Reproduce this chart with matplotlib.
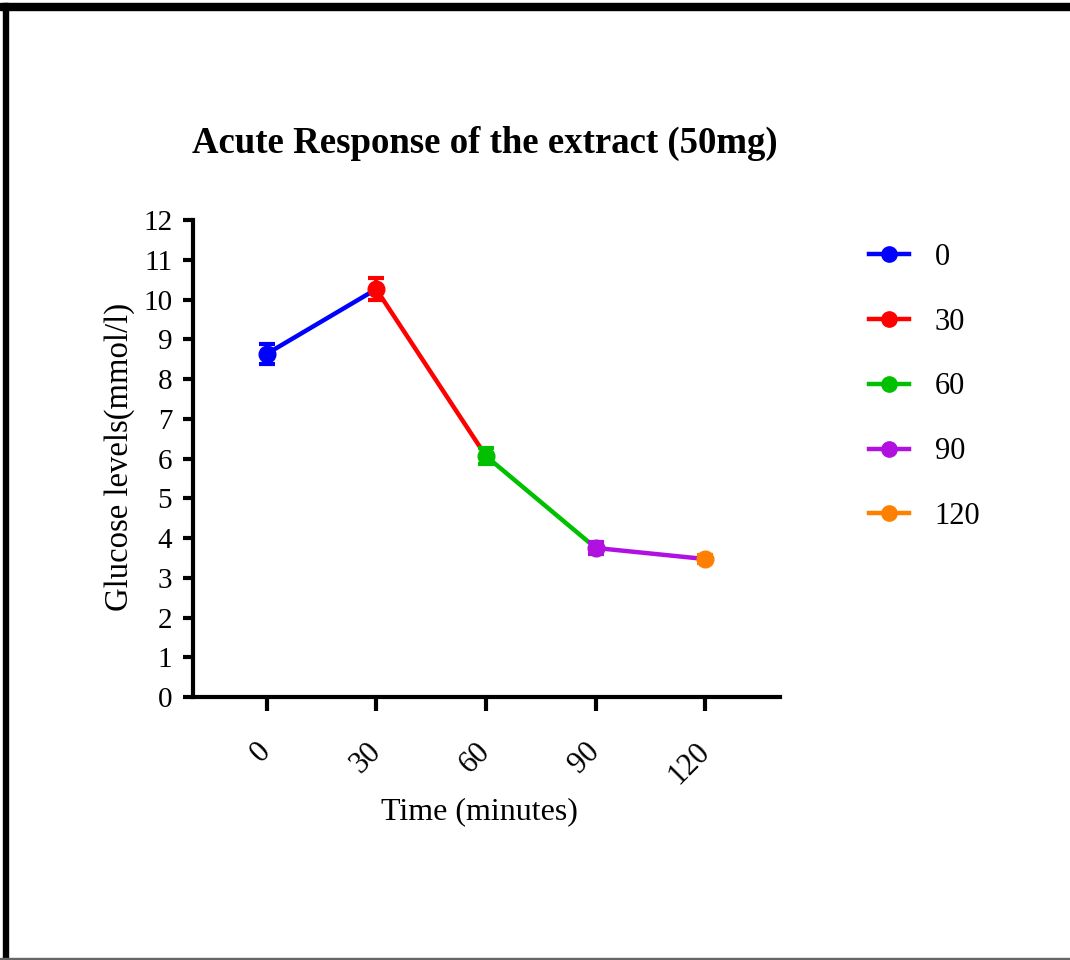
import numpy as np
import matplotlib
matplotlib.use('Agg')
import matplotlib.pyplot as plt
from matplotlib.lines import Line2D
from matplotlib.patches import Rectangle

plt.rcParams['font.family'] = ['Liberation Serif', 'DejaVu Serif']

# data
times = ['0', '30', '60', '90', '120']
glucose = [8.63, 10.26, 6.06, 3.75, 3.47]
sem = [0.25, 0.27, 0.20, 0.15, 0.10]
colors = ['#0000FF', '#FF0000', '#00C000', '#B010E0', '#FF8000']

fig = plt.figure(figsize=(10.7, 9.6), dpi=100)
ax = fig.add_axes([193/1070, 1-697/960, (780-193)/1070, (697-220)/960])

pos = np.arange(len(times))
# connecting segments, each coloured like its starting group
for i in range(len(times) - 1):
    ax.plot(pos[i:i+2], glucose[i:i+2], color=colors[i], lw=3.2, zorder=2,
            solid_capstyle='butt')
for i in range(len(times)):
    ax.errorbar(pos[i], glucose[i], yerr=sem[i], fmt='o', color=colors[i],
                ms=12, capsize=6, capthick=3, elinewidth=3, zorder=3)

ax.set_xlim(-0.67, 4.68)
ax.set_ylim(0, 12)
ax.set_yticks(range(0, 13))
ax.set_xticks(pos)
ax.set_xticklabels(times, rotation=45, ha='right', va='center',
                   rotation_mode='anchor')
for s in ['top', 'right']:
    ax.spines[s].set_visible(False)
for s in ['left', 'bottom']:
    ax.spines[s].set_linewidth(3)
ax.tick_params(axis='y', direction='out', length=7, width=3, pad=8, labelsize=21)
ax.tick_params(axis='x', direction='out', length=10, width=3, pad=26, labelsize=22)

fig.text(485/1070, 1-143/960, 'Acute Response of the extract (50mg)',
         ha='center', va='center', fontsize=26.5, fontweight='bold')
fig.text(479/1070, 1-812/960, 'Time (minutes)', ha='center', va='center',
         fontsize=23)
fig.text(120/1070, 1-457/960, 'Glucose levels(mmol/l)', ha='center',
         va='center', rotation=90, fontsize=23.5)

handles = [Line2D([], [], color=c, lw=3.2, marker='o', ms=11) for c in colors]
fig.legend(handles, times, loc='upper left', frameon=False,
           bbox_to_anchor=(869/1070, 1-243/960), fontsize=22,
           handlelength=1.3, handletextpad=0.85, labelspacing=1.17,
           borderpad=0, borderaxespad=0)

# outer frame
fig.patches.append(Rectangle((0, 1-10/960), 1, 7/960, transform=fig.transFigure,
                             color='black', zorder=0))
fig.patches.append(Rectangle((3/1070, 0), 5/1070, 1-3/960, transform=fig.transFigure,
                             color='black', zorder=0))
fig.patches.append(Rectangle((0, 0), 1, 2/960, transform=fig.transFigure,
                             color='#666666', zorder=0))

fig.savefig('out.png', dpi=100)
